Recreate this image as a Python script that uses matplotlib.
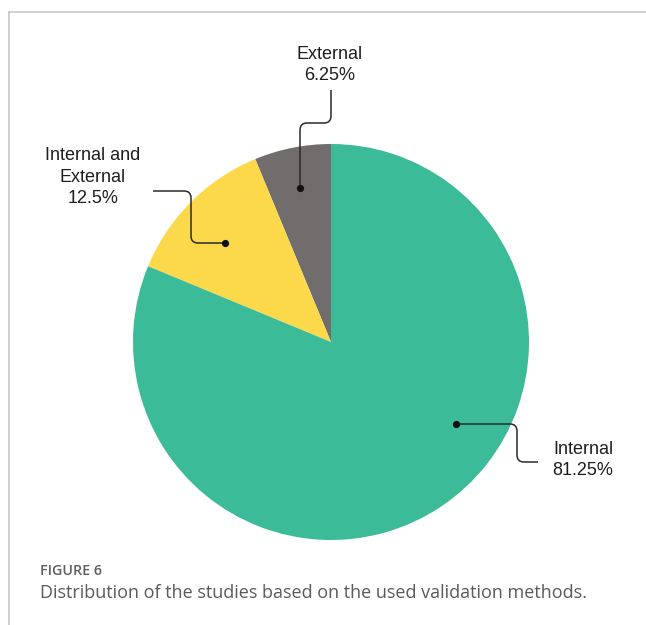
import numpy as np
import matplotlib
matplotlib.use("Agg")
import matplotlib.pyplot as plt
from matplotlib.path import Path
from matplotlib.patches import PathPatch
from matplotlib.lines import Line2D

# Share of studies by validation method
categories = ["External", "Internal and\nExternal", "Internal"]
shares = [6.25, 12.5, 81.25]
value_labels = ["6.25%", "12.5%", "81.25%"]
colors = ["#716d6c", "#fcd94a", "#3cbb98"]

W, H = 646, 625
fig = plt.figure(figsize=(W / 100, H / 100), dpi=100)
ax = fig.add_axes([0, 0, 1, 1])


def Y(y):
    # work in top-down pixel coordinates
    return H - y


cx, cy, R = 331, 342, 198
ax.pie(shares, colors=colors, startangle=90, counterclock=True,
       center=(cx, Y(cy)), radius=R, frame=True,
       wedgeprops=dict(linewidth=0))
ax.set_xlim(0, W)
ax.set_ylim(0, H)
ax.set_aspect("equal")
ax.axis("off")

# frame lines of the figure panel
ax.add_line(Line2D([9, W], [Y(11.5), Y(11.5)], color="#c8c8c8", lw=1.2))
ax.add_line(Line2D([9, 9], [Y(11.5), 0], color="#c8c8c8", lw=1.2))


def rounded_path(points, r=6):
    """Polyline through points (top-down px) with rounded corners."""
    pts = [np.array([p[0], Y(p[1])], float) for p in points]
    verts = [pts[0]]
    codes = [Path.MOVETO]
    for i in range(1, len(pts) - 1):
        p0, p1, p2 = pts[i - 1], pts[i], pts[i + 1]
        d1 = (p1 - p0) / np.linalg.norm(p1 - p0)
        d2 = (p2 - p1) / np.linalg.norm(p2 - p1)
        a = p1 - d1 * r
        b = p1 + d2 * r
        verts += [a, p1, b]
        codes += [Path.LINETO, Path.CURVE3, Path.CURVE3]
    verts.append(pts[-1])
    codes.append(Path.LINETO)
    return Path(verts, codes)


# leader lines: (anchor dot, bends..., label end)
leaders = [
    [(300, 188), (300, 123), (331, 123), (331, 90)],
    [(225, 243), (191, 243), (191, 191), (153, 191)],
    [(456, 424), (517, 424), (517, 462), (538, 462)],
]
for pts in leaders:
    ax.add_patch(PathPatch(rounded_path(pts, r=7), fill=False,
                           edgecolor="#2b2b2b", lw=1.1))
    ax.plot(pts[0][0], Y(pts[0][1]), "o", color="#111111", ms=4.2)

label_pos = [(330, 65), (93, 177), (583, 460)]
for name, val, (x, y) in zip(categories, value_labels, label_pos):
    ax.text(x, Y(y), f"{name}\n{val}", ha="center", va="center",
            fontsize=13, family="Liberation Sans", color="#1e1e1e",
            linespacing=1.32)

ax.text(40, Y(571), "FIGURE 6", ha="left", va="center", fontsize=10.3,
        family="Open Sans", weight="semibold", color="#5e5e5e")
ax.text(40, Y(593), "Distribution of the studies based on the used validation methods.",
        ha="left", va="center", fontsize=13, family="Open Sans",
        color="#5a5a5a")

fig.savefig("out.png", dpi=100)
